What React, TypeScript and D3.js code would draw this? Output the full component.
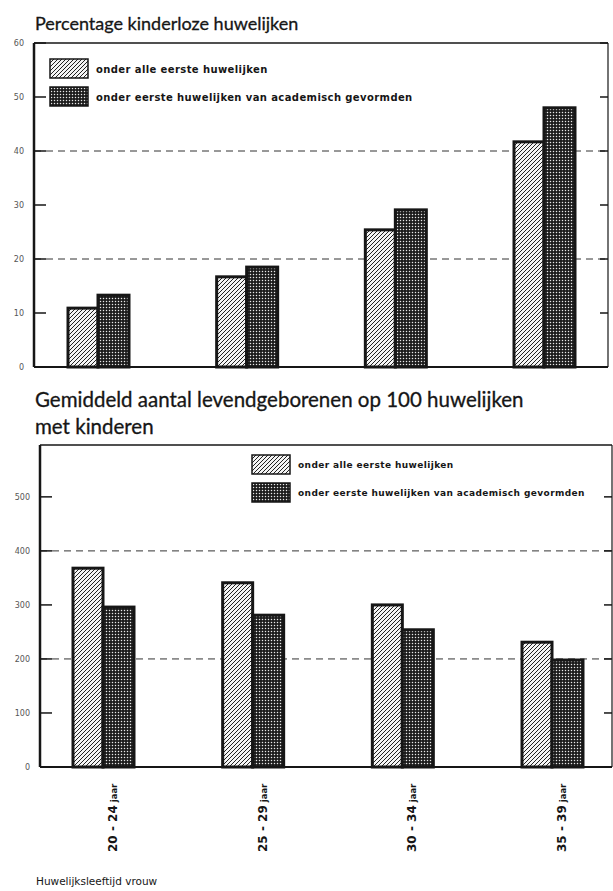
import React from 'react';
import * as d3 from 'd3';

// leeftijdsgroepen (huwelijksleeftijd vrouw)
const groups = ['20 - 24', '25 - 29', '30 - 34', '35 - 39'];
const groupUnit = 'jaar';
const legendLabels = ['onder alle eerste huwelijken', 'onder eerste huwelijken van academisch gevormden'];

// percentage kinderloze huwelijken
const kinderlozeAlle = [10.9, 16.7, 25.4, 41.7];
const kinderlozeAcad = [13.3, 18.5, 29.1, 48.0];
const pctTicks = [0, 10, 20, 30, 40, 50, 60];
const pctGrid = [20, 40];

// levendgeborenen op 100 huwelijken met kinderen
const geborenenAlle = [368, 341, 300, 231];
const geborenenAcad = [296, 281, 254, 198];
const birthTicks = [0, 100, 200, 300, 400, 500];
const birthGrid = [200, 400];

const INK = '#161616';

interface PanelProps {
  left: number;
  right: number;
  top: number;
  bottom: number;
  max: number;
  ticks: number[];
  grid: number[];
  alle: number[];
  acad: number[];
  centers: [number, number];
  legendX: number;
  legendY: number;
  legendFont: number;
}

function Panel(p: PanelProps) {
  const y = d3.scaleLinear().domain([0, p.max]).range([p.bottom, p.top]);
  const x = d3.scalePoint<string>().domain(groups).range(p.centers);
  const barW = 30;

  return (
    <g>
      {/* dashed gridlines */}
      {p.grid.map(v => (
        <line key={'g' + v} x1={p.left} x2={p.right} y1={y(v)} y2={y(v)}
          stroke="#333" strokeWidth={1} strokeDasharray="7,5" />
      ))}
      {/* bars */}
      {groups.map((g, i) => (
        <g key={g}>
          <rect x={(x(g) as number) - barW} y={y(p.alle[i])} width={barW}
            height={p.bottom - y(p.alle[i])} fill="url(#hatch)" stroke={INK} strokeWidth={3} />
          <rect x={x(g) as number} y={y(p.acad[i])} width={barW + 1}
            height={p.bottom - y(p.acad[i])} fill="url(#dots)" stroke={INK} strokeWidth={3} />
        </g>
      ))}
      {/* frame */}
      <line x1={p.left} x2={p.right} y1={p.top} y2={p.top} stroke={INK} strokeWidth={1.5} />
      <line x1={p.right} x2={p.right} y1={p.top} y2={p.bottom} stroke={INK} strokeWidth={1.2} />
      <line x1={p.left} x2={p.right} y1={p.bottom} y2={p.bottom} stroke={INK} strokeWidth={2} />
      <line x1={p.left} x2={p.left} y1={p.top} y2={p.bottom} stroke={INK} strokeWidth={2.5} />
      {/* ticks */}
      {p.ticks.map(v => (
        <g key={'t' + v}>
          <line x1={p.left} x2={p.left + 12} y1={y(v)} y2={y(v)} stroke={INK} strokeWidth={1.5} />
          <line x1={p.right - 8} x2={p.right} y1={y(v)} y2={y(v)} stroke={INK} strokeWidth={1.5} />
          <text x={p.left - 10} y={y(v)} dy="0.35em" textAnchor="end"
            fontSize={8} fill="#555" fontFamily="DejaVu Sans">{v}</text>
        </g>
      ))}
      {/* legend */}
      {legendLabels.map((l, i) => (
        <g key={l} transform={`translate(${p.legendX},${p.legendY + i * 28})`}>
          <rect x={0} y={0} width={38} height={19} fill={i === 0 ? 'url(#hatch)' : 'url(#dots)'}
            stroke={INK} strokeWidth={1.5} />
          <text x={46} y={10} dy="0.35em" fontSize={p.legendFont} fontWeight="bold"
            fontFamily="DejaVu Sans" fill={INK} letterSpacing={0.4}>{l}</text>
        </g>
      ))}
    </g>
  );
}

export default function App() {
  const xLabel = d3.scalePoint<string>().domain(groups).range([113, 562]);
  return (
    <svg width={613} height={891} style={{ position: 'absolute', left: 0, top: 0, background: '#fff' }}>
      <defs>
        <pattern id="hatch" patternUnits="userSpaceOnUse" width={4} height={4}>
          <rect width={4} height={4} fill="#f4f4f4" />
          <path d="M-1,1 l2,-2 M0,4 l4,-4 M3,5 l2,-2" stroke="#222" strokeWidth={1} />
        </pattern>
        <pattern id="dots" patternUnits="userSpaceOnUse" width={3} height={3}>
          <rect width={3} height={3} fill="#1c1c1c" />
          <circle cx={1.5} cy={1.5} r={0.75} fill="#e8e8e8" />
        </pattern>
      </defs>

      <text x={35} y={30} fontSize={18} fontFamily="Lato" fill={INK} stroke={INK} strokeWidth={0.3}>
        Percentage kinderloze huwelijken
      </text>
      <Panel left={34} right={608} top={43} bottom={367} max={60} ticks={pctTicks}
        grid={pctGrid} alle={kinderlozeAlle} acad={kinderlozeAcad} centers={[98, 544]}
        legendX={50} legendY={59} legendFont={10} />

      <text x={35} y={407} fontSize={20.5} fontFamily="Lato" fill={INK} stroke={INK} strokeWidth={0.3}>
        Gemiddeld aantal levendgeborenen op 100 huwelijken
      </text>
      <text x={35} y={434} fontSize={20.5} fontFamily="Lato" fill={INK} stroke={INK} strokeWidth={0.3}>
        met kinderen
      </text>
      <Panel left={40} right={612} top={445} bottom={767} max={596} ticks={birthTicks}
        grid={birthGrid} alle={geborenenAlle} acad={geborenenAcad} centers={[103, 552]}
        legendX={252} legendY={455} legendFont={9} />

      {groups.map(g => (
        <text key={g} transform={`translate(${(xLabel(g) as number) + 4},852) rotate(-90)`}
          fontWeight="bold" fontFamily="DejaVu Sans" fill={INK}>
          <tspan fontSize={12}>{g}</tspan>
          <tspan fontSize={8.5} dx={3}>{groupUnit}</tspan>
        </text>
      ))}
      <text x={36} y={885} fontSize={10.5} fontFamily="DejaVu Sans" fill={INK}>Huwelijksleeftijd vrouw</text>
    </svg>
  );
}
